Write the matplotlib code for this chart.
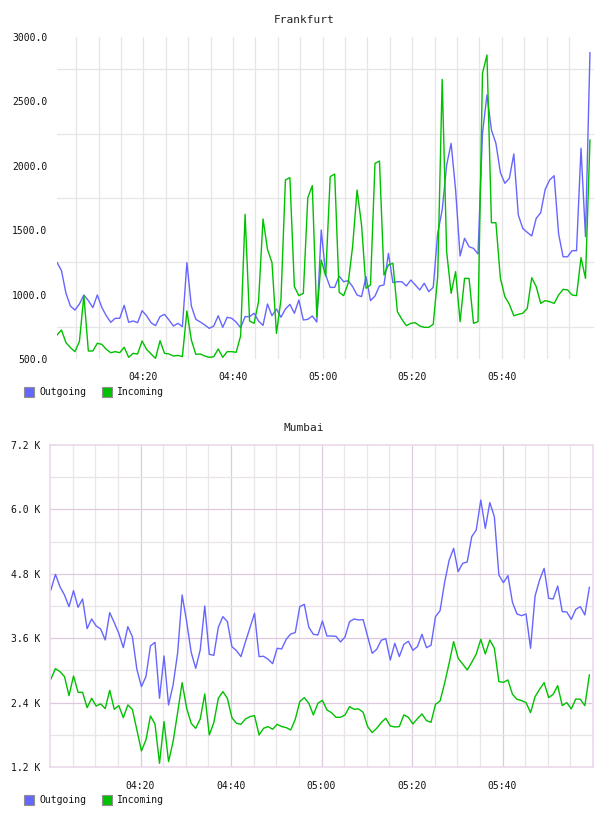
import matplotlib
matplotlib.use("Agg")
import matplotlib.pyplot as plt
from matplotlib.patches import Rectangle
from matplotlib.ticker import FuncFormatter
import numpy as np

# samples are one minute apart, x = minutes after 04:00
fra_start = 0.7
mum_start = 0.2

fra_out = [1250, 1186, 1010, 911, 880, 927, 997, 953, 899, 997,
           901, 836, 785, 816, 816, 917, 785, 795, 782, 875,
           836, 782, 759, 829, 847, 803, 756, 777, 751, 1248,
           911, 808, 787, 764, 738, 756, 836, 746, 824, 816,
           787, 743, 829, 829, 855, 795, 761, 927, 836, 888,
           824, 888, 924, 855, 958, 803, 808, 834, 787, 1502,
           1152, 1056, 1056, 1144, 1100, 1108, 1062, 997, 984, 1139,
           953, 989, 1067, 1075, 1320, 1093, 1100, 1100, 1067, 1113,
           1075, 1036, 1088, 1023, 1056, 1476, 1657, 2006, 2174, 1812,
           1300, 1437, 1372, 1359, 1315, 2252, 2550, 2278, 2174, 1947,
           1864, 1903, 2092, 1618, 1514, 1483, 1455, 1592, 1636, 1817,
           1890, 1923, 1470, 1294, 1294, 1341, 1341, 2136, 1450, 2878]
fra_in = [686, 725, 627, 588, 557, 635, 992, 562, 562, 622,
          614, 575, 549, 557, 549, 591, 513, 544, 539, 640,
          575, 539, 505, 642, 544, 539, 523, 528, 518, 873,
          647, 536, 539, 523, 513, 518, 578, 513, 557, 557,
          552, 679, 1623, 795, 777, 945, 1587, 1351, 1248, 699,
          958, 1890, 1908, 1062, 992, 1010, 1752, 1846, 829, 1269,
          1144, 1916, 1936, 1018, 992, 1087, 1372, 1812, 1540, 1049,
          1075, 2019, 2037, 1152, 1230, 1243, 868, 808, 759, 777,
          782, 756, 746, 746, 769, 1139, 2671, 1333, 1010, 1178,
          790, 1126, 1126, 777, 790, 2718, 2860, 1558, 1558, 1126,
          984, 924, 836, 847, 855, 893, 1131, 1062, 932, 953,
          945, 932, 997, 1041, 1036, 997, 992, 1287, 1126, 2200]

mum_out = [4499, 4790, 4560, 4405, 4188, 4486, 4176, 4331, 3778, 3958,
           3828, 3772, 3567, 4076, 3890, 3691, 3424, 3815, 3629, 3020,
           2698, 2884, 3455, 3524, 2480, 3269, 2356, 2729, 3319, 4405,
           3909, 3337, 3039, 3381, 4200, 3300, 3281, 3803, 4002, 3909,
           3443, 3368, 3257, 3536, 3797, 4064, 3257, 3263, 3207, 3126,
           3412, 3400, 3580, 3679, 3704, 4188, 4231, 3803, 3673, 3660,
           3921, 3641, 3641, 3635, 3530, 3623, 3909, 3958, 3940, 3946,
           3629, 3318, 3393, 3561, 3592, 3194, 3505, 3257, 3486, 3542,
           3375, 3443, 3673, 3424, 3468, 4002, 4113, 4635, 5051, 5275,
           4840, 4995, 5020, 5492, 5616, 6175, 5647, 6126, 5865, 4778,
           4635, 4766, 4269, 4051, 4020, 4051, 3412, 4387, 4685, 4902,
           4343, 4331, 4573, 4095, 4089, 3952, 4138, 4188, 4033, 4548]
mum_in = [2840, 3033, 2977, 2884, 2530, 2896, 2592, 2592, 2306, 2480,
          2337, 2375, 2288, 2629, 2275, 2344, 2120, 2356, 2275, 1890,
          1499, 1704, 2151, 2002, 1269, 2046, 1300, 1673, 2213, 2772,
          2294, 2014, 1921, 2095, 2561, 1797, 2027, 2480, 2605, 2480,
          2120, 2014, 1996, 2095, 2139, 2157, 1797, 1921, 1953, 1903,
          1996, 1953, 1934, 1890, 2089, 2418, 2493, 2387, 2170, 2387,
          2443, 2263, 2213, 2126, 2126, 2170, 2325, 2275, 2282, 2220,
          1953, 1841, 1921, 2027, 2108, 1965, 1946, 1953, 2170, 2126,
          2002, 2101, 2188, 2064, 2033, 2368, 2431, 2760, 3132, 3536,
          3225, 3120, 3008, 3151, 3306, 3580, 3306, 3567, 3412, 2791,
          2778, 2822, 2555, 2462, 2437, 2400, 2213, 2511, 2648, 2772,
          2493, 2555, 2716, 2344, 2400, 2282, 2468, 2462, 2344, 2915]

time_ticks = [20, 40, 60, 80, 100]
fra_yticks = [500, 1000, 1500, 2000, 2500, 3000]
mum_yticks = [1200, 2400, 3600, 4800, 6000, 7200]

BLUE = "#6666ff"
GREEN = "#00c000"
MONO = "DejaVu Sans Mono"
W, H = 608, 816

fig = plt.figure(figsize=(W / 100, H / 100), dpi=100)


def px_axes(l, t, r, b):
    return fig.add_axes([l / W, 1 - b / H, (r - l) / W, (b - t) / H])


def hhmm(v, pos):
    m = int(round(v))
    return "%02d:%02d" % (4 + m // 60, m % 60)


def legend_row(y):
    for x0, col, name in [(24, BLUE, "Outgoing"), (102, GREEN, "Incoming")]:
        fig.add_artist(Rectangle((x0 / W, 1 - (y + 5) / H), 10 / W, 10 / H,
                                 transform=fig.transFigure, facecolor=col,
                                 edgecolor="#909090", linewidth=0.8))
        fig.text((x0 + 15) / W, 1 - y / H, name, fontsize=7, family=MONO,
                 va="center", ha="left", color="#111111")


# ---- Frankfurt
ax = px_axes(57, 37, 594, 359)
x = fra_start + np.arange(len(fra_out))
for m in range(5, 120, 5):
    ax.axvline(m, color="#e6e6e6", lw=0.9, zorder=0)
for v in range(750, 3000, 500):
    ax.axhline(v, color="#e6e6e6", lw=0.9, zorder=0)
ax.plot(x, fra_out, color=BLUE, lw=1.0)
ax.plot(x, fra_in, color=GREEN, lw=1.0)
ax.set_xlim(fra_start, 120.6)
ax.set_ylim(500, 3000)
ax.set_xticks(time_ticks)
ax.xaxis.set_major_formatter(FuncFormatter(hhmm))
ax.set_yticks(fra_yticks)
ax.yaxis.set_major_formatter(FuncFormatter(lambda v, p: "%.1f" % v))
for s in ax.spines.values():
    s.set_visible(False)
ax.tick_params(length=0, labelsize=7, pad=7, labelcolor="#111111")
ax.tick_params(axis="x", pad=9)
for t in ax.get_xticklabels() + ax.get_yticklabels():
    t.set_family(MONO)
fig.text(0.5, 1 - 20 / H, "Frankfurt", ha="center", va="center",
         fontsize=8, family=MONO, color="#222222")
legend_row(392)

# ---- Mumbai
ax = px_axes(50, 445, 593, 767)
x = mum_start + np.arange(len(mum_out))
for m in range(5, 120, 5):
    major = m % 20 == 0
    ax.axvline(m, color="#dfc9df" if major else "#ebe4eb", lw=0.9, zorder=0)
for v in range(1800, 7200, 600):
    major = v % 1200 == 0
    ax.axhline(v, color="#dfc9df" if major else "#e8e4e8", lw=0.9, zorder=0)
ax.plot(x, mum_out, color=BLUE, lw=1.0)
ax.plot(x, mum_in, color=GREEN, lw=1.0)
ax.set_xlim(0, 120)
ax.set_ylim(1200, 7200)
ax.set_xticks(time_ticks)
ax.xaxis.set_major_formatter(FuncFormatter(hhmm))
ax.set_yticks(mum_yticks)
ax.yaxis.set_major_formatter(FuncFormatter(lambda v, p: "%.1f K" % (v / 1000)))
for s in ax.spines.values():
    s.set_color("#ead9ea")
    s.set_linewidth(1.2)
ax.tick_params(length=0, labelsize=7, pad=7, labelcolor="#111111")
ax.tick_params(axis="x", pad=10)
for t in ax.get_xticklabels() + ax.get_yticklabels():
    t.set_family(MONO)
fig.text(0.5, 1 - 428 / H, "Mumbai", ha="center", va="center",
         fontsize=8, family=MONO, color="#222222")
legend_row(800)

fig.savefig("out.png", dpi=100)
